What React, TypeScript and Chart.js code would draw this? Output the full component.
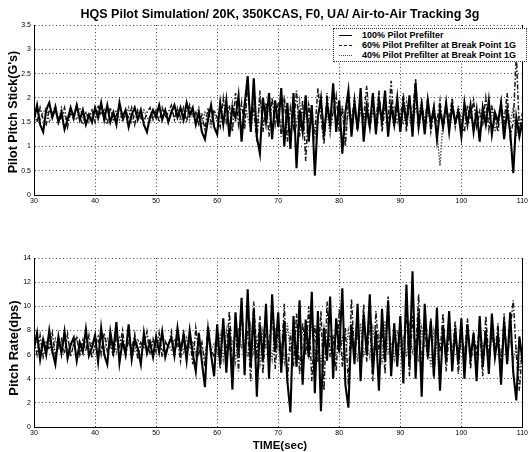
import React, { useEffect, useRef } from "react";
import { Chart, registerables } from "chart.js";

Chart.register(...registerables);

// ---------- data ----------
const TITLE = "HQS Pilot Simulation/ 20K, 350KCAS, F0, UA/ Air-to-Air Tracking 3g";
const Y_TITLE_TOP = "Pilot Pitch Stick(G's)";
const Y_TITLE_BOTTOM = "Pitch Rate(dps)";
const X_TITLE = "TIME(sec)";
const SERIES_LABELS = [
  "100% Pilot Prefilter",
  "60% Pilot Prefilter at Break Point 1G",
  "40% Pilot Prefilter at Break Point 1G",
];

const TIME_START = 30; // sec
const SAMPLE_STEP = 0.5; // sec between samples
const X_TICKS = [30, 40, 50, 60, 70, 80, 90, 100, 110];
const Y_TICKS_TOP = [0, 0.5, 1, 1.5, 2, 2.5, 3, 3.5];
const Y_TICKS_BOTTOM = [0, 2, 4, 6, 8, 10, 12, 14];

const STICK_100 = [
  1.55, 1.85, 1.45, 1.3, 1.75, 1.9, 1.6, 1.8, 1.5, 1.7, 1.35, 1.55, 1.8, 1.6, 1.85, 1.55, 1.75, 1.45, 1.65, 1.5,
  1.8, 1.6, 1.9, 1.55, 1.85, 1.5, 1.7, 1.45, 1.9, 1.6, 1.75, 1.4, 1.65, 1.8, 1.55, 1.75, 1.45, 1.3, 1.6, 1.75,
  1.6, 1.85, 1.55, 1.75, 1.5, 1.7, 1.85, 1.6, 1.8, 1.55, 1.9, 1.65, 1.8, 1.45, 1.7, 1.3, 1.15, 1.55, 1.85, 1.4,
  1.25, 1.9, 1.45, 1.95, 1.2, 1.8, 1.6, 2.05, 1.1, 1.85, 2.45, 1.3, 2.4, 1.2, 0.85, 2.0, 1.5, 2.1, 1.15, 1.95,
  1.4, 2.2, 1.0, 1.9, 0.95, 2.1, 0.55, 1.75, 1.3, 2.05, 1.1, 1.85, 0.4, 1.6, 2.0, 1.2, 1.9, 1.45, 2.3, 1.3,
  1.95, 0.85, 1.7, 2.15, 1.2, 1.9, 1.35, 2.2, 1.1, 1.8, 1.4, 2.1, 1.25, 1.95, 1.5, 2.15, 1.2, 1.85, 1.45, 2.0,
  1.3, 1.9, 1.5, 2.05, 1.2, 2.3, 1.4, 1.85, 1.25, 1.95, 1.45, 1.8, 1.15, 1.75, 1.4, 1.9, 1.3, 1.85, 1.5, 1.7,
  1.2, 1.9, 1.45, 1.85, 1.3, 1.75, 1.1, 1.8, 1.45, 1.95, 1.25, 1.7, 1.5, 1.9, 1.15, 1.75, 1.3, 0.45, 1.6, 1.2, 1.5,
];
const STICK_60 = [
  1.7, 1.5, 1.8, 1.55, 1.45, 1.75, 1.65, 1.85, 1.5, 1.6, 1.8, 1.4, 1.7, 1.55, 1.85, 1.6, 1.45, 1.7, 1.6, 1.75,
  1.5, 1.85, 1.65, 1.75, 1.45, 1.8, 1.55, 1.65, 1.85, 1.5, 1.7, 1.6, 1.8, 1.45, 1.75, 1.6, 1.5, 1.7, 1.8, 1.55,
  1.75, 1.5, 1.8, 1.6, 1.7, 1.85, 1.55, 1.75, 1.6, 1.8, 1.5, 1.85, 1.6, 1.7, 1.45, 1.65, 1.35, 1.8, 1.5, 1.75,
  1.6, 1.4, 2.0, 1.5, 1.85, 1.3, 2.1, 1.45, 1.9, 1.35, 2.3, 1.5, 1.75, 1.1, 2.15, 1.3, 1.9, 1.2, 2.0, 1.45,
  1.9, 1.2, 2.05, 1.1, 1.8, 1.4, 2.15, 1.2, 1.95, 0.7, 1.85, 1.5, 1.3, 2.2, 1.6, 1.05, 2.1, 1.4, 1.7, 2.05,
  1.3, 1.8, 1.0, 1.95, 1.5, 2.0, 1.3, 1.85, 1.6, 2.25, 1.35, 1.9, 1.5, 2.15, 1.3, 1.8, 1.55, 2.35, 1.4, 1.75,
  1.55, 2.1, 1.3, 1.95, 1.6, 2.4, 1.35, 1.9, 1.5, 2.0, 1.3, 1.7, 1.5, 1.95, 1.35, 1.8, 1.55, 2.0, 1.4, 1.8,
  1.5, 1.3, 1.85, 1.55, 1.95, 1.4, 1.7, 1.5, 2.0, 1.35, 1.8, 1.6, 1.3, 1.9, 1.5, 2.1, 1.2, 1.5, 2.9, 1.3, 1.7,
];
const STICK_40 = [
  1.6, 1.75, 1.55, 1.7, 1.8, 1.5, 1.65, 1.7, 1.55, 1.8, 1.6, 1.5, 1.75, 1.65, 1.55, 1.8, 1.6, 1.7, 1.5, 1.65,
  1.75, 1.55, 1.7, 1.6, 1.8, 1.5, 1.65, 1.75, 1.55, 1.7, 1.6, 1.8, 1.5, 1.65, 1.7, 1.55, 1.75, 1.6, 1.5, 1.7,
  1.65, 1.8, 1.6, 1.7, 1.55, 1.75, 1.6, 1.8, 1.5, 1.65, 1.75, 1.55, 1.7, 1.6, 1.8, 1.45, 1.7, 1.55, 1.4, 1.7,
  1.5, 1.75, 1.55, 1.8, 1.4, 1.9, 1.5, 1.7, 1.35, 1.95, 1.6, 1.4, 1.85, 1.3, 2.0, 1.55, 1.45, 1.8, 1.3, 1.75,
  1.6, 1.35, 1.9, 1.5, 1.25, 1.8, 1.45, 1.95, 1.3, 1.7, 1.5, 1.85, 1.2, 1.65, 1.9, 1.4, 1.7, 1.25, 1.8, 1.6,
  1.45, 1.85, 1.3, 1.7, 1.55, 1.9, 1.35, 1.75, 1.5, 1.95, 1.4, 1.7, 1.55, 1.85, 1.45, 2.0, 1.4, 1.65, 1.8, 1.5,
  1.7, 1.45, 1.9, 1.55, 1.35, 1.8, 1.6, 2.0, 1.4, 1.75, 1.5, 1.85, 1.3, 0.6, 1.55, 1.8, 1.4, 1.7, 1.5, 1.85,
  1.4, 1.65, 1.5, 1.8, 1.35, 1.6, 1.75, 1.45, 1.7, 1.55, 1.85, 1.3, 1.6, 1.75, 1.4, 1.65, 1.5, 1.8, 1.2, 1.6, 1.5,
];

const RATE_100 = [
  6.5, 7.8, 5.6, 7.2, 6.0, 8.0, 6.3, 5.2, 7.5, 6.1, 7.9, 5.7, 6.8, 7.4, 5.5, 7.0, 6.2, 8.1, 5.9, 6.6,
  7.6, 5.4, 8.2, 6.0, 5.2, 7.9, 6.3, 8.7, 5.3, 7.1, 6.0, 8.5, 5.6, 7.3, 6.5, 5.2, 7.8, 6.1, 7.0, 5.8,
  7.5, 6.2, 7.9, 5.8, 6.8, 7.4, 5.9, 8.2, 6.3, 7.6, 5.5, 8.0, 6.1, 4.6, 7.8, 5.4, 3.3, 8.3, 6.0, 4.2,
  8.5, 5.2, 9.0, 4.5, 8.2, 3.1, 9.5, 6.0, 10.7, 4.3, 11.4, 5.0, 9.8, 2.5, 8.5, 5.5, 10.2, 4.0, 11.0, 6.2,
  9.5, 4.5, 8.8, 3.8, 1.2, 9.2, 5.0, 10.5, 3.5, 8.9, 5.8, 11.2, 2.8, 9.6, 1.3, 8.2, 5.5, 10.8, 4.0, 9.0,
  6.2, 11.5, 3.5, 1.6, 8.5, 5.2, 10.2, 3.8, 9.4, 6.0, 11.0, 4.4, 8.0, 3.0, 9.8, 5.5, 10.5, 4.2, 8.6, 5.0,
  9.2, 3.6, 11.8, 5.0, 12.9, 4.0, 9.5, 2.5, 10.2, 5.8, 8.8, 4.2, 9.9, 3.0, 8.4, 5.5, 9.6, 4.6, 8.2, 5.2,
  9.0, 4.0, 8.5, 5.6, 7.8, 3.8, 9.2, 5.0, 8.0, 4.4, 9.4, 5.8, 7.6, 3.5, 8.8, 5.2, 9.5, 4.5, 2.2, 7.5, 5.5,
];
const RATE_60 = [
  7.2, 6.0, 7.6, 5.8, 7.0, 6.4, 7.8, 5.9, 6.8, 7.3, 6.1, 7.7, 5.8, 6.9, 7.5, 6.0, 7.2, 6.3, 7.6, 5.7,
  6.9, 7.5, 6.0, 7.8, 6.3, 7.0, 5.8, 7.6, 6.5, 8.0, 5.9, 7.2, 6.4, 7.7, 5.6, 7.0, 6.6, 7.9, 6.0, 7.3,
  6.2, 7.8, 5.8, 7.1, 6.6, 7.9, 6.0, 7.2, 5.5, 8.0, 6.4, 7.4, 5.2, 8.2, 6.1, 7.0, 5.0, 8.4, 6.5, 5.8,
  7.5, 4.8, 8.8, 6.0, 9.6, 5.2, 8.4, 4.6, 9.8, 6.2, 8.0, 3.8, 10.4, 5.6, 9.2, 4.4, 8.6, 6.4, 10.0, 4.8,
  8.2, 5.6, 10.2, 3.6, 7.8, 5.0, 9.4, 4.4, 8.6, 6.0, 10.0, 3.8, 8.4, 5.4, 9.6, 3.0, 10.4, 5.8, 7.6, 4.6,
  9.8, 5.0, 8.2, 3.4, 10.6, 6.0, 8.0, 4.6, 10.2, 5.4, 8.8, 3.8, 9.6, 6.2, 8.4, 4.4, 10.8, 5.0, 7.8, 6.4,
  8.6, 5.2, 10.0, 4.2, 9.2, 6.0, 11.0, 4.8, 8.4, 5.6, 9.0, 4.0, 8.6, 6.2, 9.4, 4.6, 7.8, 5.8, 8.8, 4.4,
  8.0, 5.8, 9.0, 4.8, 7.6, 6.2, 8.4, 4.2, 9.2, 5.6, 7.8, 6.0, 8.6, 4.6, 9.4, 5.2, 8.2, 10.5, 6.0, 3.0, 6.5,
];
const RATE_40 = [
  6.8, 7.0, 6.2, 7.4, 6.6, 7.1, 6.0, 7.3, 6.5, 6.9, 7.2, 6.3, 7.0, 6.6, 7.4, 6.1, 6.8, 7.1, 6.4, 7.0,
  6.5, 7.2, 6.7, 6.3, 7.3, 6.6, 7.0, 6.2, 7.4, 6.8, 6.4, 7.1, 6.7, 6.2, 7.3, 6.6, 7.0, 6.4, 7.2, 6.8,
  6.6, 7.2, 6.3, 7.0, 6.8, 6.4, 7.3, 6.6, 7.0, 6.2, 7.4, 6.5, 7.1, 6.0, 7.2, 6.6, 5.8, 7.5, 6.3, 6.9,
  6.2, 7.6, 5.6, 8.0, 6.4, 7.2, 5.4, 8.2, 6.6, 7.0, 5.8, 8.4, 6.2, 7.4, 5.2, 8.0, 6.6, 7.2, 5.6, 8.2,
  6.4, 7.0, 5.4, 8.6, 6.2, 7.4, 5.0, 8.0, 6.6, 7.2, 5.6, 8.8, 6.0, 7.0, 5.2, 8.2, 6.4, 7.6, 5.8, 8.4,
  6.2, 7.4, 5.6, 8.0, 6.6, 7.2, 5.4, 8.6, 6.0, 7.0, 5.8, 8.2, 6.4, 7.6, 5.2, 8.8, 6.2, 7.0, 5.6, 8.0,
  6.6, 7.4, 5.8, 8.4, 6.2, 7.0, 5.4, 8.2, 6.6, 7.2, 5.0, 8.0, 6.4, 3.4, 7.6, 6.0, 8.2, 5.8, 7.0, 6.4,
  7.4, 5.8, 8.0, 6.2, 7.0, 5.6, 8.2, 6.6, 7.2, 5.4, 7.8, 6.4, 7.0, 5.8, 8.0, 6.2, 7.2, 5.6, 6.6, 4.6, 6.8,
];

// ---------- styles ----------
const FONT = "Arial, 'Liberation Sans', Helvetica, sans-serif";
const LINE_STYLES = [
  { color: "#000000", width: 2.1, dash: [] as number[] },
  { color: "#1a1a1a", width: 1.5, dash: [5, 2, 1.5, 2] },
  { color: "#4a4a4a", width: 1.4, dash: [1.5, 1.5] },
];

const toPoints = (vals: number[]) =>
  vals.map((y, i) => ({ x: TIME_START + i * SAMPLE_STEP, y }));

const rightBorder = {
  id: "rightBorder",
  afterDraw(chart: any) {
    const { ctx, chartArea } = chart;
    ctx.save();
    ctx.strokeStyle = "#000";
    ctx.lineWidth = 1;
    ctx.beginPath();
    ctx.moveTo(Math.round(chartArea.right) + 0.5, chartArea.top);
    ctx.lineTo(Math.round(chartArea.right) + 0.5, chartArea.bottom);
    ctx.stroke();
    ctx.restore();
  },
};

function makeChart(
  canvas: HTMLCanvasElement,
  series: number[][],
  yTicks: number[],
  padTop: number,
  xAxisH: number
) {
  return new Chart(canvas, {
    type: "line",
    data: {
      datasets: series.map((vals, i) => ({
        label: SERIES_LABELS[i],
        data: toPoints(vals),
        borderColor: LINE_STYLES[i].color,
        borderWidth: LINE_STYLES[i].width,
        borderDash: LINE_STYLES[i].dash,
        pointRadius: 0,
        tension: 0,
        fill: false,
      })),
    },
    options: {
      animation: false,
      responsive: false,
      devicePixelRatio: 1,
      layout: { padding: { top: padTop, right: 0, left: 0, bottom: 0 } },
      plugins: { legend: { display: false }, title: { display: false }, tooltip: { enabled: false } },
      scales: {
        x: {
          type: "linear",
          min: X_TICKS[0],
          max: X_TICKS[X_TICKS.length - 1],
          afterBuildTicks: (s: any) => {
            s.ticks = X_TICKS.map((v) => ({ value: v }));
          },
          afterFit: (s: any) => {
            s.height = xAxisH;
          },
          ticks: {
            font: { family: FONT, size: 7 },
            color: "#000",
            padding: 2,
            maxRotation: 0,
            callback: (v: any) => String(v),
          },
          grid: { color: "#444", lineWidth: 1, drawTicks: false },
          border: { display: true, color: "#000", width: 1, dash: [1, 2.5] },
        },
        y: {
          type: "linear",
          min: yTicks[0],
          max: yTicks[yTicks.length - 1],
          afterBuildTicks: (s: any) => {
            s.ticks = yTicks.map((v) => ({ value: v }));
          },
          afterFit: (s: any) => {
            s.width = 34;
          },
          ticks: {
            font: { family: FONT, size: 7 },
            color: "#000",
            padding: 3,
            callback: (v: any) => String(v),
          },
          grid: { color: "#444", lineWidth: 1, drawTicks: false },
          border: { display: true, color: "#000", width: 1, dash: [1, 2.5] },
        },
      },
    },
    plugins: [rightBorder],
  } as any);
}

const abs = (s: React.CSSProperties): React.CSSProperties => ({ position: "absolute", ...s });

export default function App() {
  const topRef = useRef<HTMLCanvasElement>(null);
  const botRef = useRef<HTMLCanvasElement>(null);

  useEffect(() => {
    const c1 = makeChart(topRef.current!, [STICK_100, STICK_60, STICK_40], Y_TICKS_TOP, 25, 20);
    const c2 = makeChart(botRef.current!, [RATE_100, RATE_60, RATE_40], Y_TICKS_BOTTOM, 28, 25);
    return () => {
      c1.destroy();
      c2.destroy();
    };
  }, []);

  const legendRow = (i: number, top: number) => (
    <div key={i} style={abs({ left: 0, top, width: 193, height: 10 })}>
      <div
        style={abs({
          left: 5,
          top: 5,
          width: 13,
          height: 0,
          borderTop: `${i === 0 ? 1.5 : 1.2}px ${i === 0 ? "solid" : i === 1 ? "dashed" : "dotted"} ${LINE_STYLES[i].color}`,
        })}
      />
      <div
        style={abs({
          left: 28,
          top: 0,
          font: `bold 9px ${FONT}`,
          lineHeight: "10px",
          whiteSpace: "nowrap",
          color: "#000",
        })}
      >
        {SERIES_LABELS[i]}
      </div>
    </div>
  );

  return (
    <div style={abs({ left: 0, top: 0, width: 530, height: 452, background: "#fff", overflow: "hidden" })}>
      <canvas ref={topRef} width={530} height={215} style={abs({ left: 0, top: 0 })} />
      <canvas ref={botRef} width={530} height={222} style={abs({ left: 0, top: 230 })} />

      <div
        style={abs({
          left: 34,
          width: 492,
          top: 7,
          textAlign: "center",
          font: `bold 12.5px ${FONT}`,
          lineHeight: "14px",
          whiteSpace: "nowrap",
          color: "#000",
        })}
      >
        {TITLE}
      </div>

      <div
        style={abs({
          left: 13,
          top: 112,
          transform: "translate(-50%, -50%) rotate(-90deg)",
          font: `bold 12.5px ${FONT}`,
          whiteSpace: "nowrap",
          color: "#000",
        })}
      >
        {Y_TITLE_TOP}
      </div>
      <div
        style={abs({
          left: 13,
          top: 348,
          transform: "translate(-50%, -50%) rotate(-90deg)",
          font: `bold 13px ${FONT}`,
          whiteSpace: "nowrap",
          color: "#000",
        })}
      >
        {Y_TITLE_BOTTOM}
      </div>
      <div
        style={abs({
          left: 34,
          width: 492,
          top: 439,
          textAlign: "center",
          font: `bold 11.5px ${FONT}`,
          lineHeight: "13px",
          whiteSpace: "nowrap",
          color: "#000",
        })}
      >
        {X_TITLE}
      </div>

      <div
        style={abs({
          left: 333,
          top: 28,
          width: 192,
          height: 32,
          background: "#fff",
          border: "1px dotted #333",
        })}
      >
        {legendRow(0, 1)}
        {legendRow(1, 11)}
        {legendRow(2, 21)}
      </div>
    </div>
  );
}
